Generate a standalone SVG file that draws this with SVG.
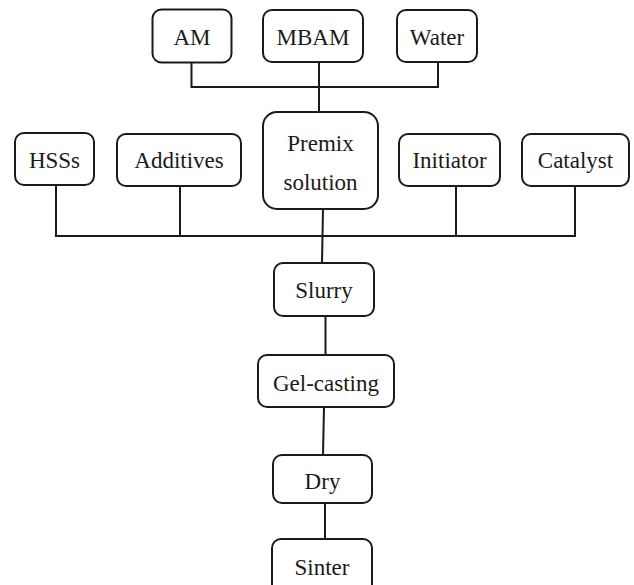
<svg xmlns="http://www.w3.org/2000/svg" width="634" height="585" viewBox="0 0 634 585">
<style>
.box{fill:#fff;stroke:#1a1a1a;stroke-width:2}
.t{font-family:'Liberation Serif','Times New Roman','DejaVu Serif',serif;font-size:23px;fill:#1a1a1a;text-anchor:middle}
.c{fill:none;stroke:#1a1a1a;stroke-width:2}
</style>
<rect width="634" height="585" fill="#fff"/>
<g id="connectors">
<polyline class="c" points="191.5,62 191.5,87 438,87 438,62"/>
<line class="c" x1="319" y1="62" x2="319" y2="112"/>
<polyline class="c" points="56,185 56,236 575,236 575,186"/>
<line class="c" x1="180" y1="186" x2="180" y2="236"/>
<line class="c" x1="456" y1="186" x2="456" y2="236"/>
<line class="c" x1="323" y1="209" x2="322" y2="263"/>
<line class="c" x1="325.5" y1="316" x2="325.5" y2="355"/>
<line class="c" x1="324" y1="407" x2="323" y2="455"/>
<line class="c" x1="325" y1="503" x2="325" y2="539"/>
</g>
<g id="am"><rect class="box" x="152.5" y="9.5" width="79" height="53" rx="9"/><text class="t" x="192" y="45">AM</text></g>
<g id="mbam"><rect class="box" x="263" y="10" width="100" height="52" rx="9"/><text class="t" x="313" y="45">MBAM</text></g>
<g id="water"><rect class="box" x="397" y="10" width="80" height="52" rx="9"/><text class="t" x="437" y="45">Water</text></g>
<g id="premix"><rect class="box" x="263" y="112" width="115" height="97" rx="14"/><text class="t" x="320.5" y="151">Premix</text><text class="t" x="320.5" y="190">solution</text></g>
<g id="hsss"><rect class="box" x="15" y="133" width="79" height="52" rx="9"/><text class="t" x="54.5" y="168">HSSs</text></g>
<g id="additives"><rect class="box" x="117" y="134" width="124" height="52" rx="9"/><text class="t" x="179" y="168">Additives</text></g>
<g id="initiator"><rect class="box" x="399" y="134" width="101" height="52" rx="9"/><text class="t" x="449.5" y="168">Initiator</text></g>
<g id="catalyst"><rect class="box" x="522" y="134" width="107" height="52" rx="9"/><text class="t" x="575.5" y="168">Catalyst</text></g>
<g id="slurry"><rect class="box" x="274" y="263" width="100" height="53" rx="9"/><text class="t" x="324" y="298">Slurry</text></g>
<g id="gelcasting"><rect class="box" x="258" y="355" width="136" height="52" rx="9"/><text class="t" x="326" y="391">Gel-casting</text></g>
<g id="dry"><rect class="box" x="273" y="455" width="99" height="48" rx="9"/><text class="t" x="322.5" y="489">Dry</text></g>
<g id="sinter"><rect class="box" x="272" y="539" width="100" height="60" rx="9"/><text class="t" x="322" y="575">Sinter</text></g>
</svg>
